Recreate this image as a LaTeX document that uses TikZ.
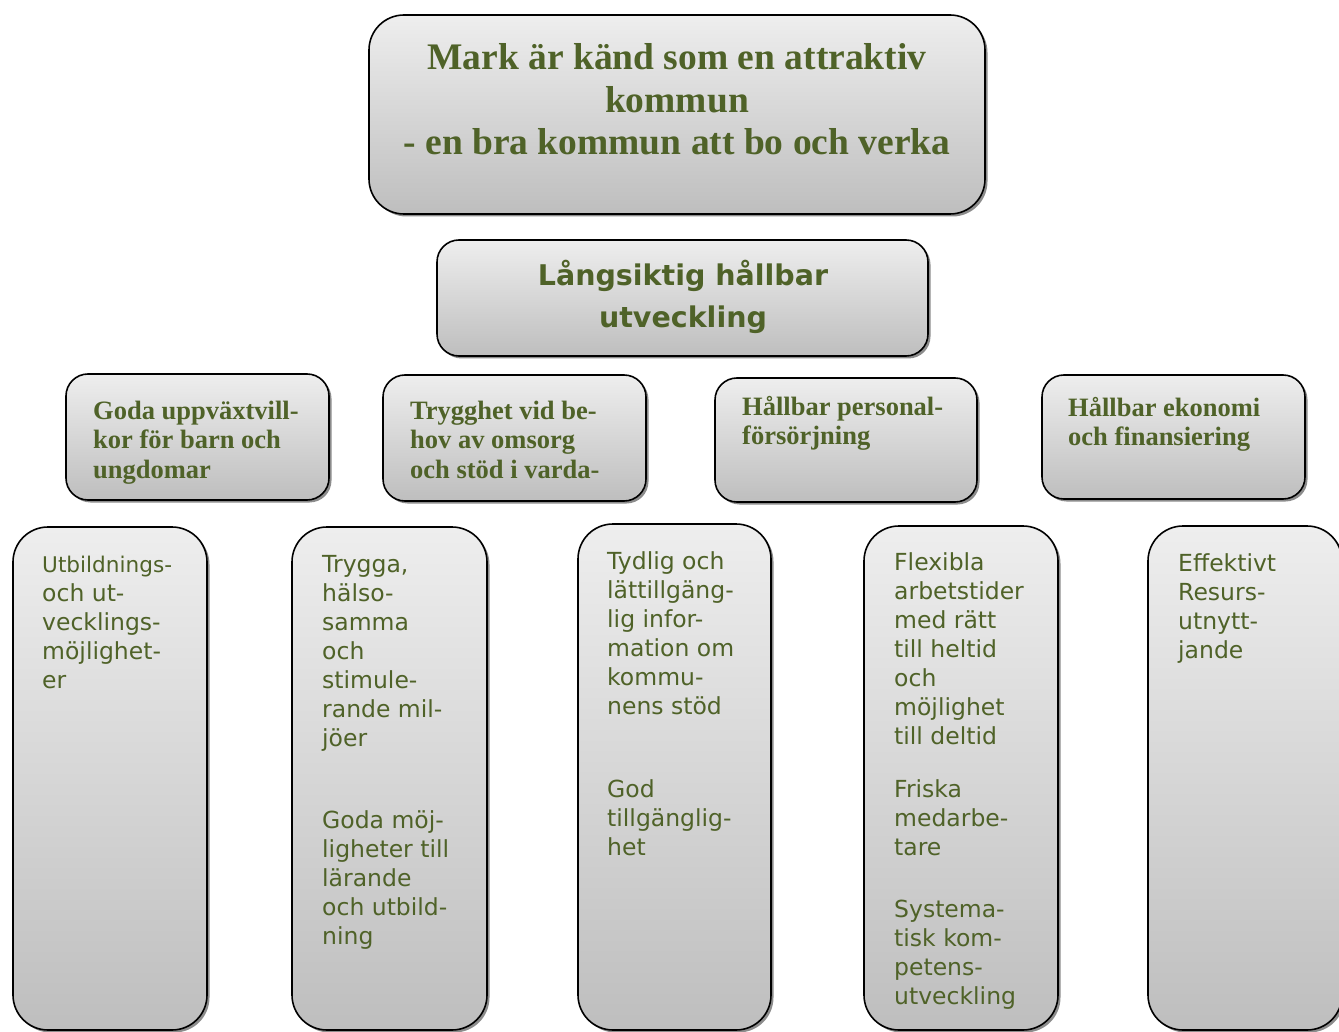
\documentclass[tikz,border=0pt]{standalone}
\usepackage{fontspec}
\setmainfont{Liberation Serif}
\newfontfamily\verd{DejaVu Sans}
\usetikzlibrary{shadows}
\definecolor{olive}{HTML}{4F6228}
\definecolor{gtop}{HTML}{EEEEEE}
\definecolor{gbot}{HTML}{BEBEBE}
\tikzset{
  gbox/.style={draw=black, line width=1.6pt, top color=gtop, bottom color=gbot,
    drop shadow={shadow xshift=2.5pt, shadow yshift=-2.5pt, fill=black, opacity=0.45},
    inner sep=0pt, rectangle},
  ttltext/.style={font=\bfseries\fontsize{37.5}{42.5}\selectfont, text=olive, align=center, inner sep=0pt, anchor=base},
  subtext/.style={font=\verd\bfseries\fontsize{28.5}{42}\selectfont, text=olive, align=center, inner sep=0pt, anchor=base},
  rowtext/.style={font=\bfseries\fontsize{26.5}{29.5}\selectfont, text=olive, align=left, inner sep=0pt, anchor=base west},
  bodytext/.style={font=\verd\fontsize{23.5}{29}\selectfont, text=olive, align=left, inner sep=0pt, anchor=base west}
}
\begin{document}
\begin{tikzpicture}[x=1pt,y=1pt]
\useasboundingbox (0,0) rectangle (1339,-1032);
\clip (0,0) rectangle (1339,-1032);
% boxes
\node[gbox, rounded corners=35pt, minimum width=616pt, minimum height=199pt] (title) at (677,-114.5) {};
\node[gbox, rounded corners=22pt, minimum width=491pt, minimum height=116pt] (sub) at (682.5,-298) {};
\node[gbox, rounded corners=22pt, minimum width=263pt, minimum height=126pt] (ba) at (197.5,-437) {};
\node[gbox, rounded corners=22pt, minimum width=263pt, minimum height=126pt] (bb) at (514.5,-438) {};
\node[gbox, rounded corners=22pt, minimum width=262pt, minimum height=124pt] (bc) at (846,-440) {};
\node[gbox, rounded corners=22pt, minimum width=263pt, minimum height=124pt] (bd) at (1173.5,-437) {};
\node[gbox, rounded corners=35pt, minimum width=194pt, minimum height=503pt] (be) at (110,-778.5) {};
\node[gbox, rounded corners=35pt, minimum width=195pt, minimum height=503pt] (bf) at (389.5,-778.5) {};
\node[gbox, rounded corners=35pt, minimum width=193pt, minimum height=506pt] (bg) at (674.5,-777) {};
\node[gbox, rounded corners=35pt, minimum width=194pt, minimum height=504pt] (bh) at (961,-778) {};
\node[gbox, rounded corners=35pt, minimum width=194pt, minimum height=504pt] (bi) at (1245,-778) {};
% texts (base anchor = baseline of the last line)
\node[ttltext] (ttl) at (677,-155) {Mark är känd som en attraktiv\\kommun\\- en bra kommun att bo och verka};
\node[subtext] (subt) at (683,-327) {Långsiktig hållbar\\utveckling};
\node[rowtext] (ta) at (93,-478) {Goda uppväxtvill-\\kor för barn och\\ungdomar};
\node[rowtext] (tb) at (410,-478) {Trygghet vid be-\\hov av omsorg\\och stöd i varda-};
\node[rowtext] (tc) at (742,-444.5) {Hållbar personal-\\försörjning};
\node[rowtext] (td) at (1068,-445.5) {Hållbar ekonomi\\och finansiering};
\node[bodytext] (te) at (42,-688) {{\fontsize{21.6}{29}\selectfont Utbildnings-}\\och ut-\\vecklings-\\möjlighet-\\er};
\node[bodytext] (tf1) at (322,-746) {Trygga,\\hälso-\\samma\\och\\stimule-\\rande mil-\\jöer};
\node[bodytext] (tf2) at (322,-944) {Goda möj-\\ligheter till\\lärande\\och utbild-\\ning};
\node[bodytext] (tg1) at (607,-714) {Tydlig och\\lättillgäng-\\lig infor-\\mation om\\kommu-\\nens stöd};
\node[bodytext] (tg2) at (607,-855) {God\\tillgänglig-\\het};
\node[bodytext] (th1) at (894,-744) {Flexibla\\arbetstider\\med rätt\\till heltid\\och\\möjlighet\\till deltid};
\node[bodytext] (th2) at (894,-855) {Friska\\medarbe-\\tare};
\node[bodytext] (th3) at (894,-1004) {Systema-\\tisk kom-\\petens-\\utveckling};
\node[bodytext] (ti) at (1178,-658) {Effektivt\\Resurs-\\utnytt-\\jande};
\end{tikzpicture}
\end{document}
